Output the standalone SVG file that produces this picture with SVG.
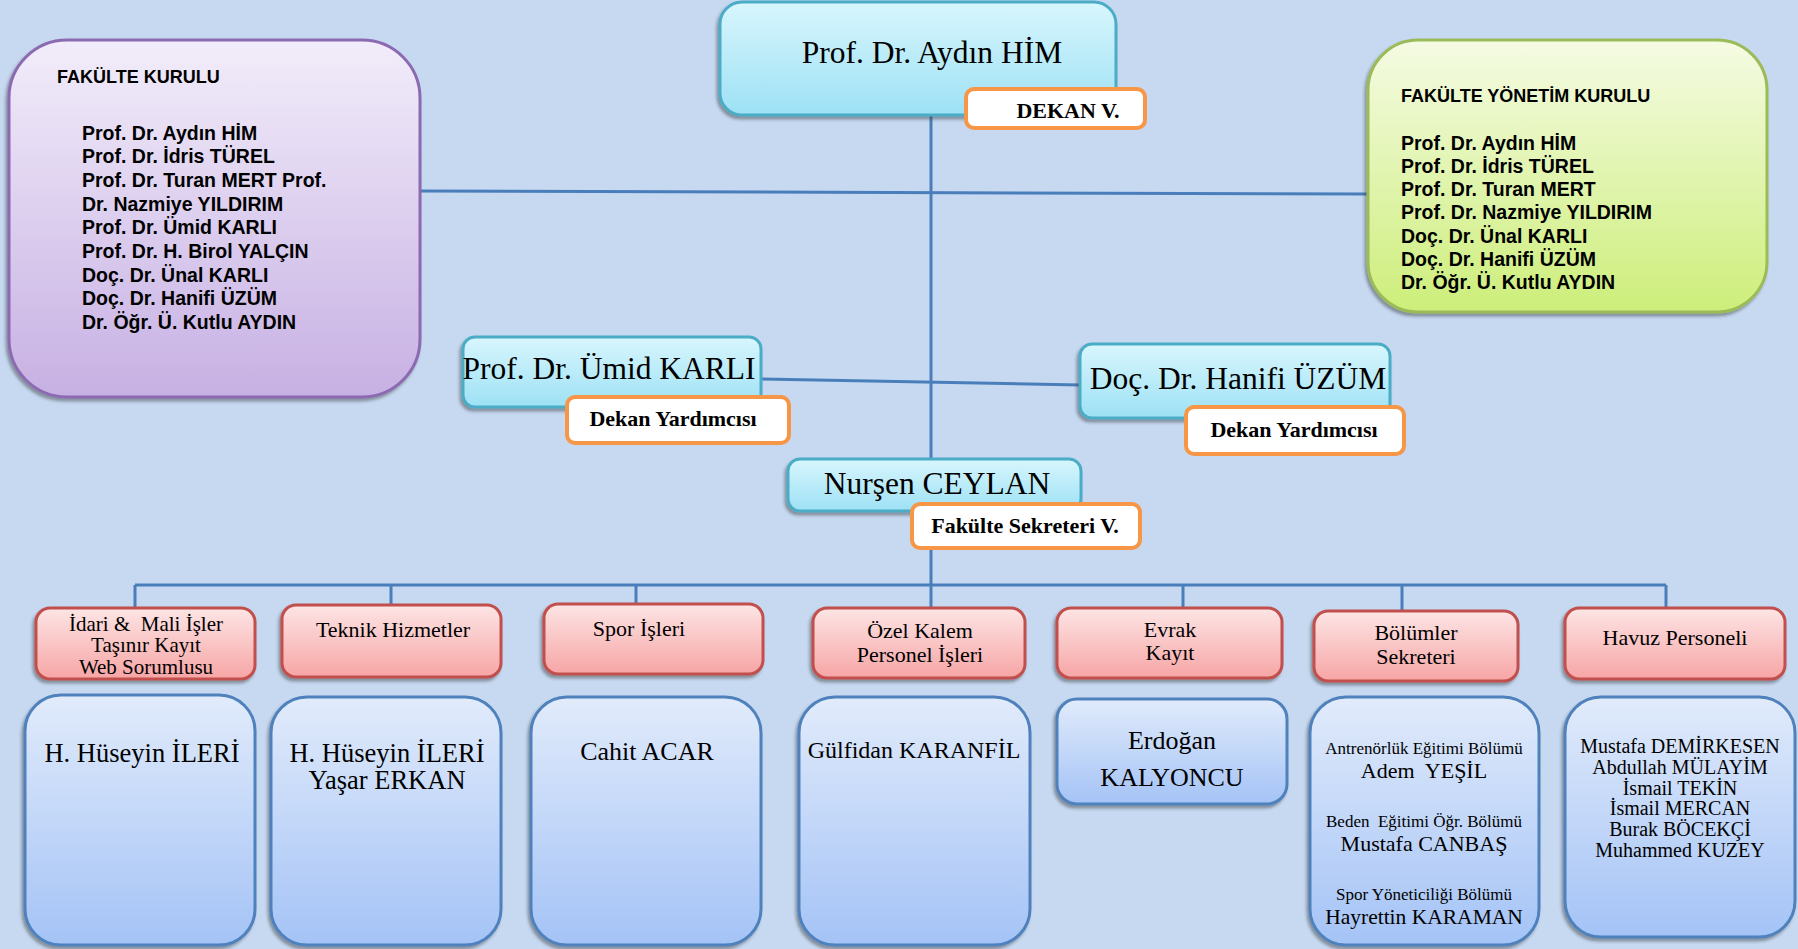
<svg xmlns="http://www.w3.org/2000/svg" width="1798" height="949" viewBox="0 0 1798 949">
<defs>
<linearGradient id="gPurple" x1="0" y1="0" x2="0" y2="1"><stop offset="0" stop-color="#f2edfa"/><stop offset="1" stop-color="#c7b0e3"/></linearGradient>
<linearGradient id="gGreen" x1="0" y1="0" x2="0" y2="1"><stop offset="0" stop-color="#f5fbe4"/><stop offset="1" stop-color="#cdee7a"/></linearGradient>
<linearGradient id="gCyan" x1="0" y1="0" x2="0" y2="1"><stop offset="0" stop-color="#d8f6fd"/><stop offset="1" stop-color="#9de1f5"/></linearGradient>
<linearGradient id="gPink" x1="0" y1="0" x2="0" y2="1"><stop offset="0" stop-color="#fde5e5"/><stop offset="1" stop-color="#f7a5a5"/></linearGradient>
<linearGradient id="gBlue" x1="0" y1="0" x2="0" y2="1"><stop offset="0" stop-color="#e1ebfb"/><stop offset="1" stop-color="#a4c3f6"/></linearGradient>
<filter id="sh" x="-10%" y="-10%" width="120%" height="130%"><feDropShadow dx="-2" dy="3" stdDeviation="1.5" flood-color="#333" flood-opacity="0.45"/></filter>
</defs>
<style>
.purple{fill:url(#gPurple);stroke:#8c6bb1;stroke-width:3}
.green{fill:url(#gGreen);stroke:#9bbb59;stroke-width:3}
.cyan{fill:url(#gCyan);stroke:#4bacc6;stroke-width:3}
.lbl{fill:#fff;stroke:#f79646;stroke-width:4}
.pink{fill:url(#gPink);stroke:#c0504d;stroke-width:3}
.blue{fill:url(#gBlue);stroke:#4f81bd;stroke-width:3}
.conn{stroke:#4a7ebb;stroke-width:3;fill:none}
.sans{font-family:"Liberation Sans",Arial,sans-serif;font-weight:bold;font-size:19.5px;fill:#000}
.hdr{font-size:18px}
.serif{font-family:"Liberation Serif","Times New Roman",serif;fill:#000}
.big{font-size:31.5px}
.b{font-weight:bold}
</style>
<rect width="1798" height="949" fill="#c6d9f1"/>

<g id="connectors">
<path class="conn" d="M421 191 L1367 194"/>
<path class="conn" d="M931 116 L931 585"/>
<path class="conn" d="M762 379 L1080 385"/>
<path class="conn" d="M135 585 L1666 585"/>
<path class="conn" d="M135 585 V608 M391 585 V605 M636 585 V604 M931 585 V608 M1183 585 V608 M1402 585 V611 M1666 585 V608"/>
</g>

<g id="fakulte-kurulu">
<rect class="purple" x="9" y="40" width="411" height="357" rx="58" filter="url(#sh)"/>
<text class="sans hdr" x="57" y="83">FAKÜLTE KURULU</text>
<text class="sans" x="82" y="140">Prof. Dr. Aydın HİM</text>
<text class="sans" x="82" y="163">Prof. Dr. İdris TÜREL</text>
<text class="sans" x="82" y="187">Prof. Dr. Turan MERT Prof.</text>
<text class="sans" x="82" y="211">Dr. Nazmiye YILDIRIM</text>
<text class="sans" x="82" y="234">Prof. Dr. Ümid KARLI</text>
<text class="sans" x="82" y="258">Prof. Dr. H. Birol YALÇIN</text>
<text class="sans" x="82" y="282">Doç. Dr. Ünal KARLI</text>
<text class="sans" x="82" y="305">Doç. Dr. Hanifi ÜZÜM</text>
<text class="sans" x="82" y="329">Dr. Öğr. Ü. Kutlu AYDIN</text>
</g>

<g id="fakulte-yonetim-kurulu">
<rect class="green" x="1368" y="40" width="399" height="272" rx="50" filter="url(#sh)"/>
<text class="sans hdr" x="1401" y="102">FAKÜLTE YÖNETİM KURULU</text>
<text class="sans" x="1401" y="150">Prof. Dr. Aydın HİM</text>
<text class="sans" x="1401" y="173">Prof. Dr. İdris TÜREL</text>
<text class="sans" x="1401" y="196">Prof. Dr. Turan MERT</text>
<text class="sans" x="1401" y="219">Prof. Dr. Nazmiye YILDIRIM</text>
<text class="sans" x="1401" y="243">Doç. Dr. Ünal KARLI</text>
<text class="sans" x="1401" y="266">Doç. Dr. Hanifi ÜZÜM</text>
<text class="sans" x="1401" y="289">Dr. Öğr. Ü. Kutlu AYDIN</text>
</g>

<g id="dekan">
<rect class="cyan" x="720" y="2" width="396" height="113" rx="22" filter="url(#sh)"/>
<text class="serif big" x="932" y="63" text-anchor="middle">Prof. Dr. Aydın HİM</text>
<rect class="lbl" x="966" y="89" width="179" height="39" rx="8"/>
<text class="serif b" x="1068" y="118" font-size="22" text-anchor="middle">DEKAN V.</text>
</g>

<g id="dekan-yardimcisi-1">
<rect class="cyan" x="463" y="337" width="298" height="70" rx="12" filter="url(#sh)"/>
<text class="serif big" x="609" y="379" text-anchor="middle">Prof. Dr. Ümid KARLI</text>
<rect class="lbl" x="567" y="397" width="222" height="46" rx="8"/>
<text class="serif b" x="673" y="426" font-size="22" text-anchor="middle">Dekan Yardımcısı</text>
</g>

<g id="dekan-yardimcisi-2">
<rect class="cyan" x="1080" y="344" width="310" height="74" rx="12" filter="url(#sh)"/>
<text class="serif big" x="1238" y="389" text-anchor="middle">Doç. Dr. Hanifi ÜZÜM</text>
<rect class="lbl" x="1186" y="407" width="218" height="47" rx="8"/>
<text class="serif b" x="1294" y="437" font-size="22" text-anchor="middle">Dekan Yardımcısı</text>
</g>

<g id="fakulte-sekreteri">
<rect class="cyan" x="788" y="459" width="293" height="52" rx="12" filter="url(#sh)"/>
<text class="serif big" x="937" y="494" text-anchor="middle">Nurşen CEYLAN</text>
<rect class="lbl" x="912" y="504" width="228" height="44" rx="8"/>
<text class="serif b" x="1025" y="533" font-size="22" text-anchor="middle">Fakülte Sekreteri V.</text>
</g>

<g id="idari-mali">
<rect class="pink" x="36" y="608" width="219" height="71" rx="14" filter="url(#sh)"/>
<text class="serif" x="146" y="631" font-size="21" text-anchor="middle">İdari &amp;&#160; Mali İşler</text>
<text class="serif" x="146" y="652" font-size="21" text-anchor="middle">Taşınır Kayıt</text>
<text class="serif" x="146" y="674" font-size="21" text-anchor="middle">Web Sorumlusu</text>
</g>
<g id="teknik">
<rect class="pink" x="282" y="605" width="219" height="72" rx="14" filter="url(#sh)"/>
<text class="serif" x="393" y="637" font-size="22" text-anchor="middle">Teknik Hizmetler</text>
</g>
<g id="spor">
<rect class="pink" x="544" y="604" width="219" height="70" rx="14" filter="url(#sh)"/>
<text class="serif" x="639" y="636" font-size="22" text-anchor="middle">Spor İşleri</text>
</g>
<g id="ozel-kalem">
<rect class="pink" x="813" y="608" width="212" height="70" rx="14" filter="url(#sh)"/>
<text class="serif" x="920" y="638" font-size="22" text-anchor="middle">Özel Kalem</text>
<text class="serif" x="920" y="662" font-size="22" text-anchor="middle">Personel İşleri</text>
</g>
<g id="evrak">
<rect class="pink" x="1057" y="608" width="225" height="70" rx="14" filter="url(#sh)"/>
<text class="serif" x="1170" y="637" font-size="22" text-anchor="middle">Evrak</text>
<text class="serif" x="1170" y="660" font-size="22" text-anchor="middle">Kayıt</text>
</g>
<g id="bolumler">
<rect class="pink" x="1314" y="611" width="204" height="70" rx="14" filter="url(#sh)"/>
<text class="serif" x="1416" y="640" font-size="22" text-anchor="middle">Bölümler</text>
<text class="serif" x="1416" y="664" font-size="22" text-anchor="middle">Sekreteri</text>
</g>
<g id="havuz">
<rect class="pink" x="1565" y="608" width="220" height="71" rx="14" filter="url(#sh)"/>
<text class="serif" x="1675" y="645" font-size="22" text-anchor="middle">Havuz Personeli</text>
</g>

<g id="p-idari">
<rect class="blue" x="25" y="695" width="230" height="250" rx="36" filter="url(#sh)"/>
<text class="serif" x="142" y="762" font-size="26.5" text-anchor="middle">H. Hüseyin İLERİ</text>
</g>
<g id="p-teknik">
<rect class="blue" x="271" y="697" width="230" height="248" rx="36" filter="url(#sh)"/>
<text class="serif" x="387" y="762" font-size="26.5" text-anchor="middle">H. Hüseyin İLERİ</text>
<text class="serif" x="387" y="789" font-size="26.5" text-anchor="middle">Yaşar ERKAN</text>
</g>
<g id="p-spor">
<rect class="blue" x="531" y="697" width="230" height="248" rx="36" filter="url(#sh)"/>
<text class="serif" x="647" y="760" font-size="26" text-anchor="middle">Cahit ACAR</text>
</g>
<g id="p-ozel">
<rect class="blue" x="799" y="697" width="231" height="248" rx="36" filter="url(#sh)"/>
<text class="serif" x="914" y="758" font-size="24" text-anchor="middle">Gülfidan KARANFİL</text>
</g>
<g id="p-evrak">
<rect class="blue" x="1057" y="699" width="230" height="105" rx="20" filter="url(#sh)"/>
<text class="serif" x="1172" y="749" font-size="26" text-anchor="middle">Erdoğan</text>
<text class="serif" x="1172" y="786" font-size="26" text-anchor="middle">KALYONCU</text>
</g>
<g id="p-bolumler">
<rect class="blue" x="1310" y="697" width="229" height="248" rx="36" filter="url(#sh)"/>
<text class="serif" x="1424" y="754" font-size="17" text-anchor="middle">Antrenörlük Eğitimi Bölümü</text>
<text class="serif" x="1424" y="778" font-size="22" text-anchor="middle">Adem&#160; YEŞİL</text>
<text class="serif" x="1424" y="827" font-size="17" text-anchor="middle">Beden&#160; Eğitimi Öğr. Bölümü</text>
<text class="serif" x="1424" y="851" font-size="22" text-anchor="middle">Mustafa CANBAŞ</text>
<text class="serif" x="1424" y="900" font-size="17" text-anchor="middle">Spor Yöneticiliği Bölümü</text>
<text class="serif" x="1424" y="924" font-size="21.5" text-anchor="middle">Hayrettin KARAMAN</text>
</g>
<g id="p-havuz">
<rect class="blue" x="1565" y="697" width="230" height="240" rx="36" filter="url(#sh)"/>
<text class="serif" x="1680" y="753" font-size="20" text-anchor="middle">Mustafa DEMİRKESEN</text>
<text class="serif" x="1680" y="774" font-size="20" text-anchor="middle">Abdullah MÜLAYİM</text>
<text class="serif" x="1680" y="795" font-size="20" text-anchor="middle">İsmail TEKİN</text>
<text class="serif" x="1680" y="815" font-size="20" text-anchor="middle">İsmail MERCAN</text>
<text class="serif" x="1680" y="836" font-size="20" text-anchor="middle">Burak BÖCEKÇİ</text>
<text class="serif" x="1680" y="857" font-size="20" text-anchor="middle">Muhammed KUZEY</text>
</g>
</svg>
